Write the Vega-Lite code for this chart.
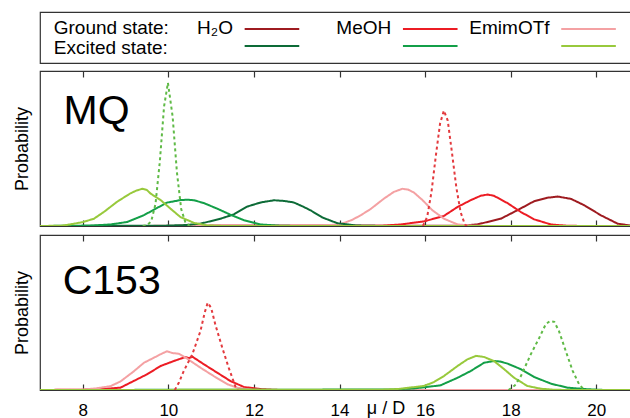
{
  "$schema": "https://vega.github.io/schema/vega-lite/v6.json",
  "padding": {"left": 12, "top": 11, "right": 0, "bottom": 0},
  "background": "white",
  "config": {
    "font": "Liberation Sans",
    "view": {"stroke": "#333333", "strokeWidth": 1.2},
    "axis": {"grid": false, "labelColor": "black", "titleColor": "black", "tickColor": "#333333", "titleFontWeight": "normal"},
    "concat": {"spacing": 5}
  },
  "data": {"values": [
    {"panel": "MQ", "series": "H2O ground", "x": 7, "p": 0},
    {"panel": "MQ", "series": "H2O ground", "x": 16.8, "p": 0.002},
    {"panel": "MQ", "series": "H2O ground", "x": 17.22, "p": 0.01},
    {"panel": "MQ", "series": "H2O ground", "x": 17.77, "p": 0.047},
    {"panel": "MQ", "series": "H2O ground", "x": 18.16, "p": 0.102},
    {"panel": "MQ", "series": "H2O ground", "x": 18.55, "p": 0.16},
    {"panel": "MQ", "series": "H2O ground", "x": 18.85, "p": 0.182},
    {"panel": "MQ", "series": "H2O ground", "x": 19.1, "p": 0.19},
    {"panel": "MQ", "series": "H2O ground", "x": 19.41, "p": 0.175},
    {"panel": "MQ", "series": "H2O ground", "x": 19.72, "p": 0.134},
    {"panel": "MQ", "series": "H2O ground", "x": 20.11, "p": 0.069},
    {"panel": "MQ", "series": "H2O ground", "x": 20.5, "p": 0.015},
    {"panel": "MQ", "series": "H2O ground", "x": 20.8, "p": 0.003},
    {"panel": "MQ", "series": "H2O ground", "x": 21, "p": 0},

    {"panel": "MQ", "series": "MeOH ground", "x": 7, "p": 0},
    {"panel": "MQ", "series": "MeOH ground", "x": 15.0, "p": 0.002},
    {"panel": "MQ", "series": "MeOH ground", "x": 15.43, "p": 0.01},
    {"panel": "MQ", "series": "MeOH ground", "x": 15.98, "p": 0.03},
    {"panel": "MQ", "series": "MeOH ground", "x": 16.44, "p": 0.065},
    {"panel": "MQ", "series": "MeOH ground", "x": 16.76, "p": 0.123},
    {"panel": "MQ", "series": "MeOH ground", "x": 17.07, "p": 0.167},
    {"panel": "MQ", "series": "MeOH ground", "x": 17.3, "p": 0.195},
    {"panel": "MQ", "series": "MeOH ground", "x": 17.46, "p": 0.203},
    {"panel": "MQ", "series": "MeOH ground", "x": 17.61, "p": 0.195},
    {"panel": "MQ", "series": "MeOH ground", "x": 17.93, "p": 0.147},
    {"panel": "MQ", "series": "MeOH ground", "x": 18.24, "p": 0.09},
    {"panel": "MQ", "series": "MeOH ground", "x": 18.55, "p": 0.043},
    {"panel": "MQ", "series": "MeOH ground", "x": 18.94, "p": 0.01},
    {"panel": "MQ", "series": "MeOH ground", "x": 19.3, "p": 0.002},
    {"panel": "MQ", "series": "MeOH ground", "x": 19.7, "p": 0},
    {"panel": "MQ", "series": "MeOH ground", "x": 21, "p": 0},

    {"panel": "MQ", "series": "EmimOTf ground", "x": 7, "p": 0},
    {"panel": "MQ", "series": "EmimOTf ground", "x": 13.6, "p": 0.002},
    {"panel": "MQ", "series": "EmimOTf ground", "x": 14.03, "p": 0.012},
    {"panel": "MQ", "series": "EmimOTf ground", "x": 14.3, "p": 0.04},
    {"panel": "MQ", "series": "EmimOTf ground", "x": 14.5, "p": 0.07},
    {"panel": "MQ", "series": "EmimOTf ground", "x": 14.73, "p": 0.11},
    {"panel": "MQ", "series": "EmimOTf ground", "x": 15.04, "p": 0.177},
    {"panel": "MQ", "series": "EmimOTf ground", "x": 15.27, "p": 0.22},
    {"panel": "MQ", "series": "EmimOTf ground", "x": 15.47, "p": 0.24},
    {"panel": "MQ", "series": "EmimOTf ground", "x": 15.6, "p": 0.235},
    {"panel": "MQ", "series": "EmimOTf ground", "x": 15.74, "p": 0.216},
    {"panel": "MQ", "series": "EmimOTf ground", "x": 15.94, "p": 0.167},
    {"panel": "MQ", "series": "EmimOTf ground", "x": 16.17, "p": 0.102},
    {"panel": "MQ", "series": "EmimOTf ground", "x": 16.44, "p": 0.047},
    {"panel": "MQ", "series": "EmimOTf ground", "x": 16.76, "p": 0.01},
    {"panel": "MQ", "series": "EmimOTf ground", "x": 17.1, "p": 0.002},
    {"panel": "MQ", "series": "EmimOTf ground", "x": 17.5, "p": 0},
    {"panel": "MQ", "series": "EmimOTf ground", "x": 21, "p": 0},

    {"panel": "MQ", "series": "H2O excited", "x": 7, "p": 0},
    {"panel": "MQ", "series": "H2O excited", "x": 9.9, "p": 0.002},
    {"panel": "MQ", "series": "H2O excited", "x": 10.4, "p": 0.006},
    {"panel": "MQ", "series": "H2O excited", "x": 10.75, "p": 0.015},
    {"panel": "MQ", "series": "H2O excited", "x": 11.22, "p": 0.047},
    {"panel": "MQ", "series": "H2O excited", "x": 11.53, "p": 0.075},
    {"panel": "MQ", "series": "H2O excited", "x": 11.84, "p": 0.125},
    {"panel": "MQ", "series": "H2O excited", "x": 12.16, "p": 0.152},
    {"panel": "MQ", "series": "H2O excited", "x": 12.47, "p": 0.166},
    {"panel": "MQ", "series": "H2O excited", "x": 12.7, "p": 0.162},
    {"panel": "MQ", "series": "H2O excited", "x": 12.93, "p": 0.152},
    {"panel": "MQ", "series": "H2O excited", "x": 13.15, "p": 0.125},
    {"panel": "MQ", "series": "H2O excited", "x": 13.33, "p": 0.1},
    {"panel": "MQ", "series": "H2O excited", "x": 13.6, "p": 0.055},
    {"panel": "MQ", "series": "H2O excited", "x": 13.95, "p": 0.018},
    {"panel": "MQ", "series": "H2O excited", "x": 14.4, "p": 0.003},
    {"panel": "MQ", "series": "H2O excited", "x": 15, "p": 0},
    {"panel": "MQ", "series": "H2O excited", "x": 21, "p": 0},

    {"panel": "MQ", "series": "MeOH excited", "x": 7, "p": 0},
    {"panel": "MQ", "series": "MeOH excited", "x": 8.2, "p": 0.003},
    {"panel": "MQ", "series": "MeOH excited", "x": 8.65, "p": 0.01},
    {"panel": "MQ", "series": "MeOH excited", "x": 9.04, "p": 0.026},
    {"panel": "MQ", "series": "MeOH excited", "x": 9.43, "p": 0.07},
    {"panel": "MQ", "series": "MeOH excited", "x": 9.74, "p": 0.117},
    {"panel": "MQ", "series": "MeOH excited", "x": 9.97, "p": 0.151},
    {"panel": "MQ", "series": "MeOH excited", "x": 10.28, "p": 0.167},
    {"panel": "MQ", "series": "MeOH excited", "x": 10.45, "p": 0.17},
    {"panel": "MQ", "series": "MeOH excited", "x": 10.6, "p": 0.166},
    {"panel": "MQ", "series": "MeOH excited", "x": 10.83, "p": 0.148},
    {"panel": "MQ", "series": "MeOH excited", "x": 11.14, "p": 0.112},
    {"panel": "MQ", "series": "MeOH excited", "x": 11.45, "p": 0.073},
    {"panel": "MQ", "series": "MeOH excited", "x": 11.77, "p": 0.037},
    {"panel": "MQ", "series": "MeOH excited", "x": 12.16, "p": 0.01},
    {"panel": "MQ", "series": "MeOH excited", "x": 12.6, "p": 0.002},
    {"panel": "MQ", "series": "MeOH excited", "x": 13, "p": 0},
    {"panel": "MQ", "series": "MeOH excited", "x": 21, "p": 0},

    {"panel": "MQ", "series": "EmimOTf excited", "x": 7, "p": 0},
    {"panel": "MQ", "series": "EmimOTf excited", "x": 7.5, "p": 0.002},
    {"panel": "MQ", "series": "EmimOTf excited", "x": 7.7, "p": 0.01},
    {"panel": "MQ", "series": "EmimOTf excited", "x": 8.0, "p": 0.025},
    {"panel": "MQ", "series": "EmimOTf excited", "x": 8.26, "p": 0.047},
    {"panel": "MQ", "series": "EmimOTf excited", "x": 8.49, "p": 0.09},
    {"panel": "MQ", "series": "EmimOTf excited", "x": 8.8, "p": 0.156},
    {"panel": "MQ", "series": "EmimOTf excited", "x": 9.11, "p": 0.21},
    {"panel": "MQ", "series": "EmimOTf excited", "x": 9.25, "p": 0.228},
    {"panel": "MQ", "series": "EmimOTf excited", "x": 9.39, "p": 0.24},
    {"panel": "MQ", "series": "EmimOTf excited", "x": 9.5, "p": 0.232},
    {"panel": "MQ", "series": "EmimOTf excited", "x": 9.58, "p": 0.21},
    {"panel": "MQ", "series": "EmimOTf excited", "x": 9.82, "p": 0.167},
    {"panel": "MQ", "series": "EmimOTf excited", "x": 10.05, "p": 0.112},
    {"panel": "MQ", "series": "EmimOTf excited", "x": 10.28, "p": 0.058},
    {"panel": "MQ", "series": "EmimOTf excited", "x": 10.6, "p": 0.02},
    {"panel": "MQ", "series": "EmimOTf excited", "x": 10.9, "p": 0.004},
    {"panel": "MQ", "series": "EmimOTf excited", "x": 11.3, "p": 0},
    {"panel": "MQ", "series": "EmimOTf excited", "x": 21, "p": 0},

    {"panel": "MQ", "series": "Gas excited", "x": 9.4, "p": 0},
    {"panel": "MQ", "series": "Gas excited", "x": 9.5, "p": 0.004},
    {"panel": "MQ", "series": "Gas excited", "x": 9.6, "p": 0.031},
    {"panel": "MQ", "series": "Gas excited", "x": 9.7, "p": 0.143},
    {"panel": "MQ", "series": "Gas excited", "x": 9.8, "p": 0.414},
    {"panel": "MQ", "series": "Gas excited", "x": 9.9, "p": 0.772},
    {"panel": "MQ", "series": "Gas excited", "x": 9.99, "p": 0.924},
    {"panel": "MQ", "series": "Gas excited", "x": 10.1, "p": 0.706},
    {"panel": "MQ", "series": "Gas excited", "x": 10.2, "p": 0.347},
    {"panel": "MQ", "series": "Gas excited", "x": 10.3, "p": 0.109},
    {"panel": "MQ", "series": "Gas excited", "x": 10.4, "p": 0.022},
    {"panel": "MQ", "series": "Gas excited", "x": 10.5, "p": 0},

    {"panel": "MQ", "series": "Gas ground", "x": 15.95, "p": 0},
    {"panel": "MQ", "series": "Gas ground", "x": 16.05, "p": 0.06},
    {"panel": "MQ", "series": "Gas ground", "x": 16.15, "p": 0.22},
    {"panel": "MQ", "series": "Gas ground", "x": 16.25, "p": 0.45},
    {"panel": "MQ", "series": "Gas ground", "x": 16.35, "p": 0.66},
    {"panel": "MQ", "series": "Gas ground", "x": 16.44, "p": 0.745},
    {"panel": "MQ", "series": "Gas ground", "x": 16.53, "p": 0.68},
    {"panel": "MQ", "series": "Gas ground", "x": 16.63, "p": 0.47},
    {"panel": "MQ", "series": "Gas ground", "x": 16.73, "p": 0.25},
    {"panel": "MQ", "series": "Gas ground", "x": 16.83, "p": 0.09},
    {"panel": "MQ", "series": "Gas ground", "x": 16.93, "p": 0.01},
    {"panel": "MQ", "series": "Gas ground", "x": 16.98, "p": 0},

    {"panel": "C153", "series": "MeOH ground", "x": 7, "p": 0},
    {"panel": "C153", "series": "MeOH ground", "x": 8.3, "p": 0.003},
    {"panel": "C153", "series": "MeOH ground", "x": 8.88, "p": 0.015},
    {"panel": "C153", "series": "MeOH ground", "x": 9.19, "p": 0.058},
    {"panel": "C153", "series": "MeOH ground", "x": 9.5, "p": 0.101},
    {"panel": "C153", "series": "MeOH ground", "x": 9.82, "p": 0.155},
    {"panel": "C153", "series": "MeOH ground", "x": 10.13, "p": 0.187},
    {"panel": "C153", "series": "MeOH ground", "x": 10.4, "p": 0.213},
    {"panel": "C153", "series": "MeOH ground", "x": 10.48, "p": 0.205},
    {"panel": "C153", "series": "MeOH ground", "x": 10.56, "p": 0.215},
    {"panel": "C153", "series": "MeOH ground", "x": 10.83, "p": 0.166},
    {"panel": "C153", "series": "MeOH ground", "x": 11.14, "p": 0.112},
    {"panel": "C153", "series": "MeOH ground", "x": 11.45, "p": 0.058},
    {"panel": "C153", "series": "MeOH ground", "x": 11.77, "p": 0.019},
    {"panel": "C153", "series": "MeOH ground", "x": 12.2, "p": 0.005},
    {"panel": "C153", "series": "MeOH ground", "x": 12.6, "p": 0},
    {"panel": "C153", "series": "MeOH ground", "x": 21, "p": 0},

    {"panel": "C153", "series": "EmimOTf ground", "x": 7, "p": 0},
    {"panel": "C153", "series": "EmimOTf ground", "x": 7.95, "p": 0.002},
    {"panel": "C153", "series": "EmimOTf ground", "x": 8.3, "p": 0.01},
    {"panel": "C153", "series": "EmimOTf ground", "x": 8.65, "p": 0.025},
    {"panel": "C153", "series": "EmimOTf ground", "x": 8.88, "p": 0.055},
    {"panel": "C153", "series": "EmimOTf ground", "x": 9.19, "p": 0.12},
    {"panel": "C153", "series": "EmimOTf ground", "x": 9.43, "p": 0.176},
    {"panel": "C153", "series": "EmimOTf ground", "x": 9.66, "p": 0.208},
    {"panel": "C153", "series": "EmimOTf ground", "x": 9.85, "p": 0.235},
    {"panel": "C153", "series": "EmimOTf ground", "x": 9.97, "p": 0.25},
    {"panel": "C153", "series": "EmimOTf ground", "x": 10.1, "p": 0.238},
    {"panel": "C153", "series": "EmimOTf ground", "x": 10.24, "p": 0.234},
    {"panel": "C153", "series": "EmimOTf ground", "x": 10.4, "p": 0.21},
    {"panel": "C153", "series": "EmimOTf ground", "x": 10.52, "p": 0.187},
    {"panel": "C153", "series": "EmimOTf ground", "x": 10.75, "p": 0.144},
    {"panel": "C153", "series": "EmimOTf ground", "x": 11.06, "p": 0.09},
    {"panel": "C153", "series": "EmimOTf ground", "x": 11.38, "p": 0.037},
    {"panel": "C153", "series": "EmimOTf ground", "x": 11.61, "p": 0.015},
    {"panel": "C153", "series": "EmimOTf ground", "x": 11.9, "p": 0.003},
    {"panel": "C153", "series": "EmimOTf ground", "x": 12.2, "p": 0},
    {"panel": "C153", "series": "EmimOTf ground", "x": 21, "p": 0},

    {"panel": "C153", "series": "MeOH excited", "x": 7, "p": 0},
    {"panel": "C153", "series": "MeOH excited", "x": 15.2, "p": 0.003},
    {"panel": "C153", "series": "MeOH excited", "x": 15.74, "p": 0.01},
    {"panel": "C153", "series": "MeOH excited", "x": 16.36, "p": 0.03},
    {"panel": "C153", "series": "MeOH excited", "x": 16.76, "p": 0.079},
    {"panel": "C153", "series": "MeOH excited", "x": 17.07, "p": 0.123},
    {"panel": "C153", "series": "MeOH excited", "x": 17.38, "p": 0.176},
    {"panel": "C153", "series": "MeOH excited", "x": 17.61, "p": 0.187},
    {"panel": "C153", "series": "MeOH excited", "x": 17.75, "p": 0.184},
    {"panel": "C153", "series": "MeOH excited", "x": 17.93, "p": 0.17},
    {"panel": "C153", "series": "MeOH excited", "x": 18.24, "p": 0.134},
    {"panel": "C153", "series": "MeOH excited", "x": 18.55, "p": 0.084},
    {"panel": "C153", "series": "MeOH excited", "x": 18.94, "p": 0.041},
    {"panel": "C153", "series": "MeOH excited", "x": 19.33, "p": 0.015},
    {"panel": "C153", "series": "MeOH excited", "x": 19.8, "p": 0.005},
    {"panel": "C153", "series": "MeOH excited", "x": 20.2, "p": 0},
    {"panel": "C153", "series": "MeOH excited", "x": 21, "p": 0},

    {"panel": "C153", "series": "EmimOTf excited", "x": 7, "p": 0},
    {"panel": "C153", "series": "EmimOTf excited", "x": 15.0, "p": 0.002},
    {"panel": "C153", "series": "EmimOTf excited", "x": 15.35, "p": 0.006},
    {"panel": "C153", "series": "EmimOTf excited", "x": 15.97, "p": 0.026},
    {"panel": "C153", "series": "EmimOTf excited", "x": 16.2, "p": 0.05},
    {"panel": "C153", "series": "EmimOTf excited", "x": 16.44, "p": 0.09},
    {"panel": "C153", "series": "EmimOTf excited", "x": 16.76, "p": 0.155},
    {"panel": "C153", "series": "EmimOTf excited", "x": 16.99, "p": 0.198},
    {"panel": "C153", "series": "EmimOTf excited", "x": 17.19, "p": 0.22},
    {"panel": "C153", "series": "EmimOTf excited", "x": 17.38, "p": 0.213},
    {"panel": "C153", "series": "EmimOTf excited", "x": 17.61, "p": 0.187},
    {"panel": "C153", "series": "EmimOTf excited", "x": 17.85, "p": 0.134},
    {"panel": "C153", "series": "EmimOTf excited", "x": 18.08, "p": 0.079},
    {"panel": "C153", "series": "EmimOTf excited", "x": 18.39, "p": 0.026},
    {"panel": "C153", "series": "EmimOTf excited", "x": 18.71, "p": 0.008},
    {"panel": "C153", "series": "EmimOTf excited", "x": 19.0, "p": 0.002},
    {"panel": "C153", "series": "EmimOTf excited", "x": 19.3, "p": 0},
    {"panel": "C153", "series": "EmimOTf excited", "x": 21, "p": 0},

    {"panel": "C153", "series": "Gas ground", "x": 10.15, "p": 0},
    {"panel": "C153", "series": "Gas ground", "x": 10.25, "p": 0.05},
    {"panel": "C153", "series": "Gas ground", "x": 10.36, "p": 0.123},
    {"panel": "C153", "series": "Gas ground", "x": 10.56, "p": 0.23},
    {"panel": "C153", "series": "Gas ground", "x": 10.75, "p": 0.38},
    {"panel": "C153", "series": "Gas ground", "x": 10.85, "p": 0.5},
    {"panel": "C153", "series": "Gas ground", "x": 10.92, "p": 0.563},
    {"panel": "C153", "series": "Gas ground", "x": 11.0, "p": 0.53},
    {"panel": "C153", "series": "Gas ground", "x": 11.1, "p": 0.42},
    {"panel": "C153", "series": "Gas ground", "x": 11.26, "p": 0.273},
    {"panel": "C153", "series": "Gas ground", "x": 11.41, "p": 0.144},
    {"panel": "C153", "series": "Gas ground", "x": 11.57, "p": 0.02},
    {"panel": "C153", "series": "Gas ground", "x": 11.62, "p": 0},

    {"panel": "C153", "series": "Gas excited", "x": 17.95, "p": 0},
    {"panel": "C153", "series": "Gas excited", "x": 18.1, "p": 0.03},
    {"panel": "C153", "series": "Gas excited", "x": 18.24, "p": 0.09},
    {"panel": "C153", "series": "Gas excited", "x": 18.47, "p": 0.23},
    {"panel": "C153", "series": "Gas excited", "x": 18.67, "p": 0.337},
    {"panel": "C153", "series": "Gas excited", "x": 18.82, "p": 0.424},
    {"panel": "C153", "series": "Gas excited", "x": 18.92, "p": 0.445},
    {"panel": "C153", "series": "Gas excited", "x": 19.02, "p": 0.44},
    {"panel": "C153", "series": "Gas excited", "x": 19.13, "p": 0.38},
    {"panel": "C153", "series": "Gas excited", "x": 19.29, "p": 0.25},
    {"panel": "C153", "series": "Gas excited", "x": 19.45, "p": 0.123},
    {"panel": "C153", "series": "Gas excited", "x": 19.6, "p": 0.037},
    {"panel": "C153", "series": "Gas excited", "x": 19.72, "p": 0}
  ]},
  "vconcat": [
    {
      "width": 599,
      "height": 51,
      "layer": [
        {
          "data": {"values": [
            {"solvent": "H2O", "state": "Ground", "series": "H2O ground"},
            {"solvent": "MeOH", "state": "Ground", "series": "MeOH ground"},
            {"solvent": "EmimOTf", "state": "Ground", "series": "EmimOTf ground"},
            {"solvent": "H2O", "state": "Excited", "series": "H2O excited"},
            {"solvent": "MeOH", "state": "Excited", "series": "MeOH excited"},
            {"solvent": "EmimOTf", "state": "Excited", "series": "EmimOTf excited"}
          ]},
          "mark": {"type": "rule", "strokeWidth": 2, "xOffset": -15.7, "x2Offset": 38.9},
          "encoding": {
            "x": {"field": "solvent", "type": "nominal", "scale": {"type": "point", "domain": ["label", "H2O", "MeOH", "EmimOTf"], "padding": 0.392}, "axis": null},
            "x2": {"field": "solvent"},
            "y": {"field": "state", "type": "nominal", "scale": {"type": "point", "domain": ["Ground", "Excited"], "padding": 1.036}, "axis": null},
            "color": {"field": "series", "type": "nominal", "legend": null,
              "scale": {"domain": ["H2O ground", "MeOH ground", "EmimOTf ground", "H2O excited", "MeOH excited", "EmimOTf excited", "Gas ground", "Gas excited"],
                        "range": ["#9e1b20", "#ec1c24", "#f4a1a3", "#0d6b37", "#139f48", "#98c93c", "#e33a3e", "#5fba46"]}}
          }
        },
        {
          "data": {"values": [
            {"col": "label", "state": "Ground", "text": "Ground state:"},
            {"col": "label", "state": "Excited", "text": "Excited state:"}
          ]},
          "mark": {"type": "text", "align": "left", "baseline": "alphabetic", "fontSize": 19, "dx": -48.3},
          "encoding": {
            "x": {"field": "col", "type": "nominal", "axis": null},
            "y": {"field": "state", "type": "nominal", "scale": {"type": "point", "domain": ["Ground", "Excited"], "padding": 0.775, "align": 0.72}, "axis": null},
            "text": {"field": "text"}
          }
        },
        {
          "data": {"values": [
            {"col": "H2O", "state": "Ground", "text": "H₂O"},
            {"col": "MeOH", "state": "Ground", "text": "MeOH"},
            {"col": "EmimOTf", "state": "Ground", "text": "EmimOTf"}
          ]},
          "mark": {"type": "text", "align": "right", "baseline": "alphabetic", "fontSize": 19, "dx": -27.4},
          "encoding": {
            "x": {"field": "col", "type": "nominal", "axis": null},
            "y": {"field": "state", "type": "nominal", "scale": {"type": "point", "domain": ["Ground", "Excited"], "padding": 0.775, "align": 0.72}, "axis": null},
            "text": {"field": "text"}
          }
        }
      ],
      "resolve": {"scale": {"y": "independent"}}
    },
    {
      "width": 599,
      "height": 155,
      "layer": [
        {
          "transform": [{"filter": "datum.panel === 'MQ'"}],
          "mark": {"type": "line", "strokeWidth": 2, "clip": true},
          "encoding": {
            "x": {"field": "x", "type": "quantitative", "scale": {"domain": [7, 21], "nice": false, "zero": false},
                  "axis": {"orient": "bottom", "values": [8, 10, 12, 14, 16, 18, 20], "labels": false, "title": null, "domain": false, "tickSize": -6, "tickWidth": 1.2}},
            "y": {"field": "p", "type": "quantitative", "scale": {"domain": [0, 1], "nice": false},
                  "axis": {"title": "Probability", "titleFontSize": 18, "titlePadding": 9, "labels": false, "ticks": false, "domain": false}},
            "color": {"field": "series", "type": "nominal", "legend": null,
              "scale": {"domain": ["H2O ground", "MeOH ground", "EmimOTf ground", "H2O excited", "MeOH excited", "EmimOTf excited", "Gas ground", "Gas excited"],
                        "range": ["#9e1b20", "#ec1c24", "#f4a1a3", "#0d6b37", "#139f48", "#98c93c", "#e33a3e", "#5fba46"]}},
            "strokeDash": {"field": "series", "type": "nominal", "legend": null,
              "scale": {"domain": ["H2O ground", "MeOH ground", "EmimOTf ground", "H2O excited", "MeOH excited", "EmimOTf excited", "Gas ground", "Gas excited"],
                        "range": [[1, 0], [1, 0], [1, 0], [1, 0], [1, 0], [1, 0], [3, 3], [3, 3]]}}
          }
        },
        {
          "data": {"values": [{"label": "MQ"}]},
          "mark": {"type": "text", "fontSize": 41, "align": "left", "baseline": "alphabetic"},
          "encoding": {
            "x": {"datum": 7.55, "type": "quantitative",
                  "axis": {"orient": "top", "values": [8, 10, 12, 14, 16, 18, 20], "labels": false, "title": null, "domain": false, "tickSize": -6, "tickWidth": 1.2}},
            "y": {"datum": 0.655, "type": "quantitative"},
            "text": {"field": "label"}
          }
        }
      ],
      "resolve": {"axis": {"x": "independent"}}
    },
    {
      "width": 599,
      "height": 155,
      "layer": [
        {
          "transform": [{"filter": "datum.panel === 'C153'"}],
          "mark": {"type": "line", "strokeWidth": 2, "clip": true},
          "encoding": {
            "x": {"field": "x", "type": "quantitative", "scale": {"domain": [7, 21], "nice": false, "zero": false},
                  "axis": {"orient": "bottom", "values": [8, 10, 12, 14, 16, 18, 20], "labelFontSize": 17, "labelPadding": 18, "domain": false, "tickSize": -6, "tickWidth": 1.2,
                           "title": "μ / D", "titleFontSize": 18, "titleX": 345.5, "titleY": 23, "titleBaseline": "alphabetic", "titleAlign": "center"}},
            "y": {"field": "p", "type": "quantitative", "scale": {"domain": [0, 1], "nice": false},
                  "axis": {"title": "Probability", "titleFontSize": 18, "titlePadding": 9, "labels": false, "ticks": false, "domain": false}},
            "color": {"field": "series", "type": "nominal", "legend": null,
              "scale": {"domain": ["H2O ground", "MeOH ground", "EmimOTf ground", "H2O excited", "MeOH excited", "EmimOTf excited", "Gas ground", "Gas excited"],
                        "range": ["#9e1b20", "#ec1c24", "#f4a1a3", "#0d6b37", "#139f48", "#98c93c", "#e33a3e", "#5fba46"]}},
            "strokeDash": {"field": "series", "type": "nominal", "legend": null,
              "scale": {"domain": ["H2O ground", "MeOH ground", "EmimOTf ground", "H2O excited", "MeOH excited", "EmimOTf excited", "Gas ground", "Gas excited"],
                        "range": [[1, 0], [1, 0], [1, 0], [1, 0], [1, 0], [1, 0], [3, 3], [3, 3]]}}
          }
        },
        {
          "data": {"values": [{"label": "C153"}]},
          "mark": {"type": "text", "fontSize": 41, "align": "left", "baseline": "alphabetic"},
          "encoding": {
            "x": {"datum": 7.53, "type": "quantitative",
                  "axis": {"orient": "top", "values": [8, 10, 12, 14, 16, 18, 20], "labels": false, "title": null, "domain": false, "tickSize": -6, "tickWidth": 1.2}},
            "y": {"datum": 0.619, "type": "quantitative"},
            "text": {"field": "label"}
          }
        }
      ],
      "resolve": {"axis": {"x": "independent"}}
    }
  ]
}
